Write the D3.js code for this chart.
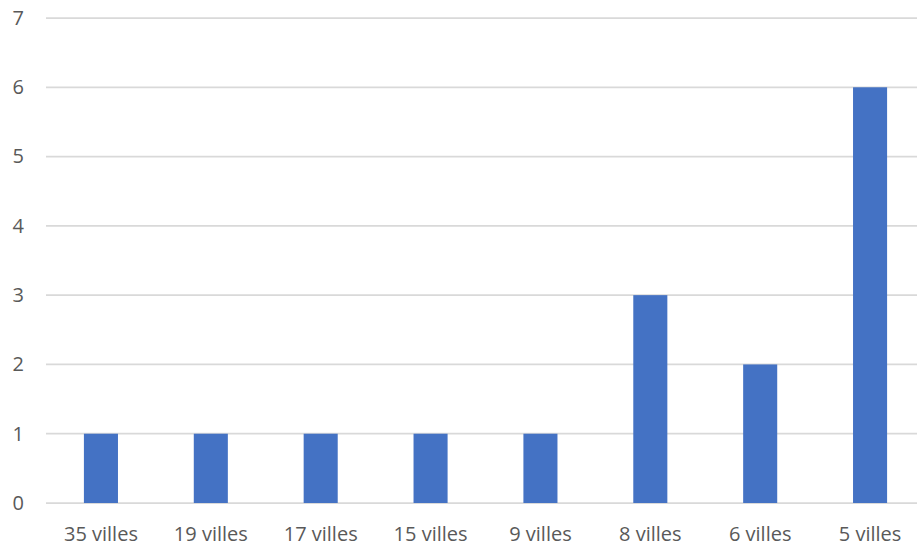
<!DOCTYPE html>
<html>
<head>
<meta charset="utf-8">
<script src="https://cdn.jsdelivr.net/npm/d3@7"></script>
<style>
  html, body { margin: 0; padding: 0; background: #fff; }
  svg { display: block; }
  text { font-family: "Open Sans", Lato, sans-serif; fill: #595959; }
</style>
</head>
<body>
<svg id="chart" width="917" height="548"></svg>
<script>
// Number of entries per group size
const categories = ["35 villes", "19 villes", "17 villes", "15 villes", "9 villes", "8 villes", "6 villes", "5 villes"];
const values = [1, 1, 1, 1, 1, 3, 2, 6];
const yTicks = [0, 1, 2, 3, 4, 5, 6, 7];

const svg = d3.select("#chart");
const plotLeft = 46, plotRight = 925, plotTop = 18, plotBottom = 503;

const x = d3.scaleBand()
  .domain(categories)
  .range([plotLeft, plotRight])
  .paddingInner(0.69)
  .paddingOuter(0.345);

const y = d3.scaleLinear().domain([0, 7]).range([plotBottom, plotTop]);

// Horizontal gridlines
svg.append("g")
  .selectAll("line")
  .data(yTicks)
  .join("line")
  .attr("x1", plotLeft)
  .attr("x2", plotRight)
  .attr("y1", d => y(d))
  .attr("y2", d => y(d))
  .attr("stroke", "#d9d9d9")
  .attr("stroke-width", 1.75);

// Y axis labels
const yAxis = svg.append("g")
  .attr("transform", `translate(24,0)`)
  .call(d3.axisLeft(y).tickValues(yTicks).tickSize(0).tickPadding(0).tickFormat(d3.format("d")));
yAxis.select(".domain").remove();
yAxis.selectAll("text")
  .style("font-size", "20px")
  .style("font-family", "\"Open Sans\", Lato, sans-serif")
  .attr("fill", "#595959");

// Bars
svg.append("g")
  .selectAll("rect")
  .data(values)
  .join("rect")
  .attr("x", (d, i) => x(categories[i]))
  .attr("width", x.bandwidth())
  .attr("y", d => y(d))
  .attr("height", d => y(0) - y(d))
  .attr("fill", "#4472c4");

// X axis labels
const xAxis = svg.append("g")
  .attr("transform", `translate(0,${plotBottom})`)
  .call(d3.axisBottom(x).tickSize(0).tickPadding(24));
xAxis.select(".domain").remove();
xAxis.selectAll("text")
  .style("font-size", "20px")
  .style("font-family", "\"Open Sans\", Lato, sans-serif")
  .attr("fill", "#595959");
</script>
</body>
</html>
